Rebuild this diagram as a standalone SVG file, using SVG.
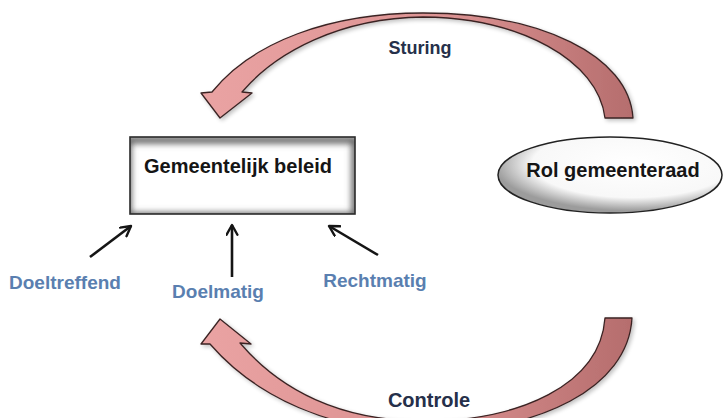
<svg xmlns="http://www.w3.org/2000/svg" width="724" height="418" viewBox="0 0 724 418">
  <style>
    .lbl { font-family: "Liberation Sans", Arial, sans-serif; font-weight: bold; text-anchor: middle; }
    .blue { fill: #5a7fb0; font-size: 19px; }
    .dark { fill: #26304a; }
    .node { fill: #151515; font-size: 20px; }
    .conn { stroke: #151515; stroke-width: 2.6; fill: none; marker-end: url(#head); }
    .band { stroke: #3b2424; stroke-width: 1.3; stroke-linejoin: round; }
  </style>
  <defs>
    <marker id="head" viewBox="0 0 12 12" refX="10" refY="6" markerWidth="5" markerHeight="5" orient="auto" markerUnits="strokeWidth">
      <path d="M1,1 L10,6 L1,11" fill="none" stroke="#151515" stroke-width="2.2" stroke-linecap="round" stroke-linejoin="round"/>
    </marker>
    <linearGradient id="pinkTop" x1="200" y1="0" x2="640" y2="0" gradientUnits="userSpaceOnUse">
      <stop offset="0" stop-color="#eaa3a3"/>
      <stop offset="0.55" stop-color="#dc9393"/>
      <stop offset="1" stop-color="#b46c6c"/>
    </linearGradient>
    <linearGradient id="pinkBot" x1="200" y1="0" x2="640" y2="0" gradientUnits="userSpaceOnUse">
      <stop offset="0" stop-color="#eaa3a3"/>
      <stop offset="0.55" stop-color="#d98f8f"/>
      <stop offset="1" stop-color="#b46c6c"/>
    </linearGradient>
    <radialGradient id="ellFill" cx="0.6" cy="0.35" r="0.62">
      <stop offset="0" stop-color="#ffffff"/>
      <stop offset="0.72" stop-color="#f8f8f8"/>
      <stop offset="1" stop-color="#9c9c9c"/>
    </radialGradient>
    <filter id="soft" x="-10%" y="-10%" width="120%" height="120%">
      <feGaussianBlur stdDeviation="3"/>
    </filter>
    <filter id="drop" x="-10%" y="-10%" width="130%" height="130%">
      <feGaussianBlur in="SourceAlpha" stdDeviation="2"/>
      <feOffset dx="2" dy="2" result="b"/>
      <feComponentTransfer><feFuncA type="linear" slope="0.25"/></feComponentTransfer>
      <feMerge><feMergeNode/><feMergeNode in="SourceGraphic"/></feMerge>
    </filter>
    <clipPath id="boxClip"><rect x="130" y="137" width="225" height="77"/></clipPath>
  </defs>

  <rect width="724" height="418" fill="#ffffff"/>

  <g id="connectors">
    <path id="sturing-arrow" class="band" fill="url(#pinkTop)" filter="url(#drop)"
      d="M633,118 C629,55 540,13 423,13 C330,13 252,42 212,92 L201,93 L220,118 L252,93 L242,92 C276,52 340,18 423,17 C520,18 598,60 605,118 Z"/>
    <path id="controle-arrow" class="band" fill="url(#pinkBot)" filter="url(#drop)"
      d="M632,318 C628,388 540,432 423,432 C330,432 255,396 210,344 L201,344 L220,319 L251,344 L240,343 C280,390 340,421 423,421 C520,421 600,385 605,318 Z"/>
    <line class="conn" x1="90" y1="257" x2="131" y2="226"/>
    <line class="conn" x1="232" y1="277" x2="232" y2="225"/>
    <line class="conn" x1="378" y1="255" x2="329" y2="226"/>
  </g>

  <g id="gemeentelijk-beleid">
    <g clip-path="url(#boxClip)">
      <rect x="130" y="137" width="225" height="77" fill="#ffffff"/>
      <rect x="128" y="140" width="227" height="76" fill="none" stroke="#5e5e5e" stroke-width="7" filter="url(#soft)"/>
    </g>
    <rect x="130" y="137" width="225" height="77" fill="none" stroke="#2a2a2a" stroke-width="1.6"/>
    <text class="lbl node" x="238" y="173">Gemeentelijk beleid</text>
  </g>

  <g id="rol-gemeenteraad">
    <ellipse cx="610" cy="175" rx="112" ry="38" fill="url(#ellFill)" stroke="#222" stroke-width="1.5"/>
    <text class="lbl node" x="613" y="177">Rol gemeenteraad</text>
  </g>

  <g id="sturing"><text class="lbl dark" font-size="18" x="420" y="54">Sturing</text></g>
  <g id="controle"><text class="lbl dark" font-size="20" x="429" y="407">Controle</text></g>
  <g id="doeltreffend"><text class="lbl blue" x="65" y="289">Doeltreffend</text></g>
  <g id="doelmatig"><text class="lbl blue" x="218" y="298">Doelmatig</text></g>
  <g id="rechtmatig"><text class="lbl blue" x="375" y="287">Rechtmatig</text></g>
</svg>
